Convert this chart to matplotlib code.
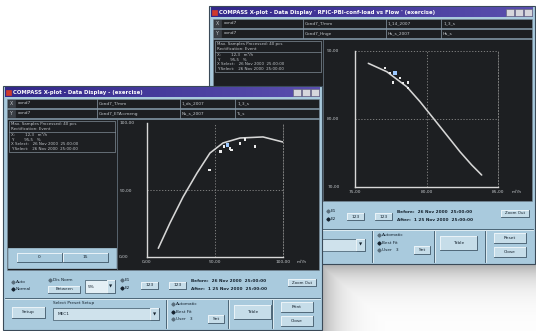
import numpy as np
import matplotlib
matplotlib.use("Agg")
import matplotlib.pyplot as plt
from matplotlib.patches import Rectangle
from matplotlib.colors import LinearSegmentedColormap

W, H = 536, 331

# --- front window: efficiency (%) against flow (m3/h) ---
front_curve_x = [8.3, 16.9, 26.5, 36.8, 46.3, 55.9, 68.4, 85.3, 100.0]
front_curve_y = [6.5, 25.4, 44.8, 62.7, 77.6, 85.1, 88.8, 89.6, 85.8]
front_pts_x = [45.8, 54.2, 56.6, 59.3, 61.0, 62.3, 68.4, 72.1, 79.4]
front_pts_y = [64.9, 78.6, 82.3, 83.6, 81.1, 79.9, 84.9, 87.8, 82.3]
front_hilite = 3
front_xticks = [0, 50, 100]
front_yticks = [0, 50, 100]
front_xlabels = ["0,00", "50,00", "100,00"]
front_ylabels = ["0,00", "50,00", "100,00"]

# --- back window: head against flow ---
back_curve_x = [75.93, 77.22, 78.62, 79.55, 80.48, 81.41, 82.34, 83.16, 83.86]
back_curve_y = [88.19, 86.96, 84.75, 82.54, 80.10, 77.65, 75.19, 73.24, 71.76]
back_pts_x = [77.10, 77.45, 77.80, 78.15, 78.71, 78.36, 77.66, 78.71]
back_pts_y = [87.50, 86.76, 86.76, 86.00, 85.40, 85.30, 85.40, 84.56]
back_hilite = 2
back_xticks = [75, 80, 85]
back_yticks = [70, 80, 90]
back_xlabels = ["75,00", "80,00", "85,00"]
back_ylabels = ["70,00", "80,00", "90,00"]

unit = "m³/h"

front_title = "COMPASS X-plot - Data Display - (exercise)"
back_title = "COMPASS X-plot - Data Display ' RFIC-PBI-conf-load vs Flow ' (exercise)"
front_xrow = ["cond7", "Cond7_T/mm", "1_ds_2007", "1_3_s"]
front_yrow = ["cond7", "Cond7_ETA=meng", "Ns_s_2007", "Ts_s"]
back_xrow = ["cond7", "Cond7_T/mm", "1_14_2007", "1_3_s"]
back_yrow = ["cond7", "Cond7_Hnge", "Hs_s_2007", "Hs_s"]
info_head = ["Max. Samples Processed: 40 pcs", "Rectification: Event"]
info_lines = ["X:        12,3   m³/h", "Y:        95,5   %",
              "X Select:   26 Nov 2000  25:00:00", "Y Select:   26 Nov 2000  25:00:00"]

PANEL = "#a9cadd"
BUTTON = "#c6dde9"
LIGHT = "#f2f8fb"
SHADE = "#3d5566"
EDGE = "#3a4a58"
DARK = "#1d1f22"
TEXT = "#c2c6ca"
INK = "#15222e"
TITLE0, TITLE1 = "#33288a", "#5a4fae"
CURVE = "#d6d6d6"

fig = plt.figure(figsize=(W / 100, H / 100), dpi=100)
fig.patch.set_facecolor("white")


def chrome_axes(z):
    ax = fig.add_axes([0, 0, 1, 1], zorder=z)
    ax.set_xlim(0, W)
    ax.set_ylim(H, 0)
    ax.axis("off")
    return ax


def box(ax, x0, y0, x1, y1, fc, ec=None, lw=0.5, z=1):
    ax.add_patch(Rectangle((x0, y0), x1 - x0, y1 - y0, facecolor=fc,
                           edgecolor=ec if ec else fc, linewidth=lw, zorder=z))


def bevel(ax, x0, y0, x1, y1, z=3, lw=0.6, sunken=False):
    hi, lo = (SHADE, LIGHT) if sunken else (LIGHT, SHADE)
    ax.plot([x0, x0, x1], [y1, y0, y0], color=hi, lw=lw, zorder=z)
    ax.plot([x0, x1, x1], [y1, y1, y0], color=lo, lw=lw, zorder=z)


def button(ax, x0, y0, x1, y1, label, fs=3.2):
    box(ax, x0, y0, x1, y1, BUTTON, z=2)
    bevel(ax, x0, y0, x1, y1)
    ax.text((x0 + x1) / 2, (y0 + y1) / 2, label, ha="center", va="center",
            fontsize=fs, color=INK, zorder=4)


def label(ax, x, y, s, color=INK, fs=3.1, ha="left", weight="normal"):
    ax.text(x, y, s, ha=ha, va="center", fontsize=fs, color=color,
            fontweight=weight, zorder=4)


def radio(ax, x, y, s, on=False):
    ax.plot(x, y, marker="D", ms=1.6, color=INK if on else "#5a6e7c", zorder=4)
    label(ax, x + 3, y, s)


def gradient(ax, x0, y0, x1, y1, c0, c1, z=2):
    cmap = LinearSegmentedColormap.from_list("bar", [c0, c1])
    ax.imshow(np.linspace(0, 1, 64)[None, :], cmap=cmap, extent=(x0, x1, y1, y0),
              aspect="auto", zorder=z, interpolation="bilinear")


def draw_window(ax, x0, y0, x1, y1, split_x, pb, title, xrow, yrow, combo):
    box(ax, x0, y0, x1, y1, PANEL, ec=EDGE, lw=0.8, z=1)

    # title bar
    gradient(ax, x0 + 2, y0 + 1.5, x1 - 2, y0 + 11, TITLE0, TITLE1)
    box(ax, x0 + 3, y0 + 3.5, x0 + 8, y0 + 9, "#d03a2c", z=3)
    label(ax, x0 + 10, y0 + 6.3, title, color="white", fs=3.9, weight="bold")
    for i in range(3):
        bx = x1 - 29 + i * 9
        box(ax, bx, y0 + 3, bx + 8, y0 + 10, "#d6d6dc", ec="#5e6070", lw=0.4, z=3)

    # X / Y channel rows
    for r, (tag, cells) in enumerate([("X", xrow), ("Y", yrow)]):
        ry = y0 + 13 + r * 10
        box(ax, x0 + 4, ry, x1 - 3, ry + 9, DARK, ec="#7a8c9a", lw=0.4, z=2)
        box(ax, x0 + 5, ry + 1, x0 + 12, ry + 8, "#3b4046", z=3)
        label(ax, x0 + 8.5, ry + 4.5, tag, color=TEXT, fs=3.4, ha="center")
        for cx, s in zip([x0 + 13, x0 + 94, x0 + 177, x0 + 232], cells):
            label(ax, cx + 2, ry + 4.5, s, color=TEXT)
        for cx in [x0 + 94, x0 + 177, x0 + 232]:
            ax.plot([cx, cx], [ry, ry + 9], color="#8c9caa", lw=0.5, zorder=3)

    # dark content area with the info panel on the left
    box(ax, x0 + 4, y0 + 33, x1 - 3, pb, DARK, ec="#7a8c9a", lw=0.4, z=2)
    ax.plot([split_x, split_x], [y0 + 33, pb], color="#6f7f8c", lw=0.5, zorder=3)
    box(ax, x0 + 6, y0 + 35, split_x - 2, y0 + 66, DARK, ec="#9aa8b4", lw=0.4, z=3)
    for i, s in enumerate(info_head):
        label(ax, x0 + 8, y0 + 38 + i * 4.5, s, color=TEXT, fs=2.9)
    ax.plot([x0 + 6, split_x - 2], [y0 + 45.5, y0 + 45.5], color="#9aa8b4", lw=0.4, zorder=3)
    for i, s in enumerate(info_lines):
        label(ax, x0 + 8, y0 + 49 + i * 4.6, s, color=TEXT, fs=2.9)
    box(ax, x0 + 5, pb - 22, split_x - 1, pb - 2, PANEL, z=3)
    button(ax, x0 + 14, pb - 17, x0 + 59, pb - 8, "0")
    button(ax, x0 + 60, pb - 17, x0 + 105, pb - 8, "15")

    # control strip, first row
    radio(ax, x0 + 10, pb + 12, "Auto")
    radio(ax, x0 + 10, pb + 19, "Normal", on=True)
    radio(ax, x0 + 47, pb + 10, "Dis Norm")
    button(ax, x0 + 45, pb + 16, x0 + 77, pb + 23, "Between", fs=2.9)
    box(ax, x0 + 82, pb + 10, x0 + 104, pb + 23, "#e4eff5", ec=SHADE, lw=0.5, z=2)
    label(ax, x0 + 85, pb + 16.5, "5%")
    button(ax, x0 + 104, pb + 10, x0 + 112, pb + 23, "▼", fs=3.0)
    radio(ax, x0 + 119, pb + 10, "E1")
    radio(ax, x0 + 119, pb + 18, "E2", on=True)
    button(ax, x0 + 138, pb + 12, x0 + 155, pb + 19, "123")
    button(ax, x0 + 166, pb + 12, x0 + 183, pb + 19, "123")
    label(ax, x0 + 188, pb + 11, "Before:  26 Nov 2000  25:00:00", weight="bold")
    label(ax, x0 + 188, pb + 19, "After:  1 25 Nov 2000  25:00:00", weight="bold")
    button(ax, x1 - 34, pb + 9, x1 - 6, pb + 16, "Zoom Out", fs=2.9)

    # control strip, second row
    ax.plot([x0 + 2, x1 - 2], [pb + 28, pb + 28], color=SHADE, lw=0.6, zorder=3)
    ax.plot([x0 + 2, x1 - 2], [pb + 29, pb + 29], color=LIGHT, lw=0.5, zorder=3)
    button(ax, x0 + 9, pb + 37, x0 + 42, pb + 48, "Setup")
    label(ax, x0 + 50, pb + 33, "Select Preset Setup")
    box(ax, x0 + 50, pb + 38, x0 + 147, pb + 50, "#cfe2ec", ec=SHADE, lw=0.5, z=2)
    label(ax, x0 + 55, pb + 44, combo)
    button(ax, x0 + 147, pb + 38, x0 + 156, pb + 50, "▼", fs=3.0)
    for sx in [x0 + 163, x0 + 225, x1 - 50]:
        ax.plot([sx, sx], [pb + 30, y1 - 2], color=SHADE, lw=0.6, zorder=3)
        ax.plot([sx + 1, sx + 1], [pb + 30, y1 - 2], color=LIGHT, lw=0.5, zorder=3)
    radio(ax, x0 + 170, pb + 34, "Automatic")
    radio(ax, x0 + 170, pb + 42, "Best Fit", on=True)
    radio(ax, x0 + 170, pb + 49, "User   3")
    button(ax, x0 + 205, pb + 45, x0 + 221, pb + 53, "Set")
    button(ax, x0 + 231, pb + 35, x0 + 268, pb + 49, "Table")
    button(ax, x1 - 41, pb + 32, x1 - 9, pb + 42, "Print" if x0 < 100 else "Reset")
    button(ax, x1 - 41, pb + 46, x1 - 9, pb + 56, "Close")


def draw_plot(pxbox, z, xlim, ylim, xticks, xlabels, yticks, ylabels,
              cx, cy, ptx, pty, hi, top_grid):
    x0, y0, x1, y1 = pxbox
    ax = fig.add_axes([x0 / W, 1 - y1 / H, (x1 - x0) / W, (y1 - y0) / H], zorder=z)
    ax.patch.set_visible(False)
    ax.set_xlim(*xlim)
    ax.set_ylim(*ylim)
    ax.spines["top"].set_visible(False)
    ax.spines["right"].set_color("#8c8c8c")
    ax.spines["right"].set_linestyle((0, (1.5, 2)))
    ax.spines["right"].set_linewidth(0.6)
    for s in ["left", "bottom"]:
        ax.spines[s].set_color("#d8d8d8")
        ax.spines[s].set_linewidth(1.0)
    grid = dict(color="#8c8c8c", lw=0.6, ls=(0, (1.5, 2)))
    ax.axvline(xticks[1], **grid)
    ax.axhline(yticks[1], **grid)
    if top_grid:
        ax.axhline(yticks[2], **grid)
    ax.plot(cx, cy, color=CURVE, lw=1.15, solid_capstyle="round")
    cols = ["#ececec"] * len(ptx)
    cols[hi] = "#9cc8ff"
    sizes = [3.5] * len(ptx)
    sizes[hi] = 7
    ax.scatter(ptx, pty, s=sizes, marker="s", c=cols, linewidths=0, zorder=3)
    ax.set_xticks(xticks, xlabels)
    ax.set_yticks(yticks, ylabels)
    ax.tick_params(length=0, labelsize=3.2, labelcolor=TEXT)
    ax.tick_params(axis="x", pad=2)
    ax.tick_params(axis="y", pad=20)
    for t in ax.get_yticklabels():
        t.set_horizontalalignment("left")
    ax.annotate(unit, xy=(1, 0), xycoords="axes fraction", xytext=(10, -2.2),
                textcoords="offset points", ha="left", va="top", fontsize=3.2, color=TEXT)
    return ax


# page shading below the back window
bg = chrome_axes(0)
yy, xx = np.mgrid[264:331, 322:536]
alpha = np.maximum(0.55 * np.exp(-(yy - 264) / 16.0), 0.5 * np.exp(-(xx - 322) / 18.0))
shade = np.zeros(yy.shape + (4,))
shade[..., :3] = 0.42
shade[..., 3] = alpha
bg.imshow(shade, extent=(322, 536, 331, 264), aspect="auto", zorder=1, interpolation="bilinear")
bg.set_xlim(0, W)
bg.set_ylim(H, 0)

back = chrome_axes(1)
draw_window(back, 209, 6, 535, 264, 323, 201, back_title, back_xrow, back_yrow, "MEC1")
back.set_xlim(0, W)
back.set_ylim(H, 0)
draw_plot((355, 51, 498, 187), 2, (75, 85), (70, 90), back_xticks, back_xlabels,
          back_yticks, back_ylabels, back_curve_x, back_curve_y, back_pts_x, back_pts_y,
          back_hilite, True)

front = chrome_axes(3)
draw_window(front, 3, 86, 322, 330, 117, 270, front_title, front_xrow, front_yrow, "MEC1")
front.set_xlim(0, W)
front.set_ylim(H, 0)
draw_plot((147, 123, 283, 257), 4, (0, 100), (0, 100), front_xticks, front_xlabels,
          front_yticks, front_ylabels, front_curve_x, front_curve_y, front_pts_x, front_pts_y,
          front_hilite, False)

fig.savefig("out.png", dpi=100, facecolor="white")
